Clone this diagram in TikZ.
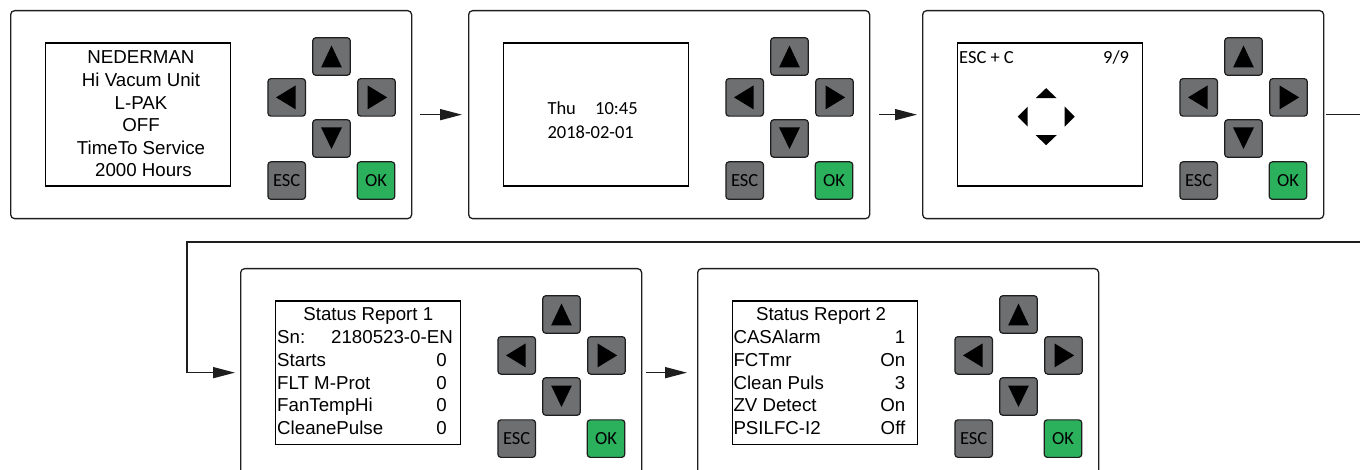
\documentclass[tikz,border=0pt]{standalone}
\usepackage{fontspec}
\setmainfont{Liberation Sans}
\newfontfamily\calfont{Carlito}
\usetikzlibrary{calc,arrows.meta}

\definecolor{keygray}{RGB}{109,111,113}
\definecolor{okgreen}{RGB}{43,176,92}
\definecolor{edge}{RGB}{30,30,30}

\tikzset{
  panel/.style={draw=edge, line width=1.3pt, rounded corners=4pt,
    minimum width=401pt, minimum height=208pt, inner sep=0pt, anchor=north west},
  screen/.style={draw=black, line width=1.3pt, minimum width=185pt,
    minimum height=143pt, inner sep=0pt, anchor=north west},
  key/.style={draw=edge, line width=1.2pt, rounded corners=3pt, fill=keygray,
    minimum size=37.5pt, inner sep=0pt},
  okkey/.style={key, fill=okgreen},
  keylabel/.style={font=\calfont\fontsize{18.5}{20}\selectfont},
  lcd/.style={inner sep=0pt, font=\fontsize{18.7}{22}\selectfont},
  lcdcal/.style={inner sep=0pt, font=\calfont\fontsize{18.5}{22}\selectfont},
  flow/.style={line width=1.6pt, draw=edge, -{Triangle[length=22pt,width=11pt]}},
}

% front panel: outline, display window and keypad of one controller view
\newcommand\ctrlpanel[3]{%
  \node[panel] (#1) at (#2,#3) {};
  \node[screen] (#1-scr) at ($(#1.north west)+(35,32.5)$) {};
  \node[key] (#1-up) at ($(#1.north west)+(321.5,46.5)$) {};
  \node[key] (#1-left) at ($(#1.north west)+(276.7,87.4)$) {};
  \node[key] (#1-right) at ($(#1.north west)+(366.5,87.4)$) {};
  \node[key] (#1-down) at ($(#1.north west)+(321.5,128.5)$) {};
  \node[key, keylabel] (#1-esc) at ($(#1.north west)+(276.7,170.6)$) {ESC};
  \node[okkey, keylabel] (#1-ok) at ($(#1.north west)+(366,170.6)$) {OK};
  \fill ($(#1-up)+(0,-11)$) -- ++(10.4,22) -- ++(-20.8,0) -- cycle;
  \fill ($(#1-down)+(0,10.5)$) -- ++(10.4,-21.5) -- ++(-20.8,0) -- cycle;
  \fill ($(#1-left)+(-10.7,0)$) -- ++(19.7,-12) -- ++(0,24) -- cycle;
  \fill ($(#1-right)+(10.7,0)$) -- ++(-19.7,-12) -- ++(0,24) -- cycle;
}

\begin{document}
\begin{tikzpicture}[x=1pt,y=-1pt]
\useasboundingbox (0,0) rectangle (1360,470);
\clip (0,0) rectangle (1360,470);

\ctrlpanel{p1}{10}{10}
\ctrlpanel{p2}{468}{10}
\ctrlpanel{p3}{922}{10}
\ctrlpanel{p4}{240}{268}
\ctrlpanel{p5}{697}{268}

% start-up screen
\foreach \t/\yy [count=\i] in {NEDERMAN/64, Hi Vacum Unit/86.6, L-PAK/109.2,
    OFF/131.8, TimeTo Service/154.4}
  \node[lcd, anchor=base] (p1-l\i) at (141,\yy) {\t};
\node[lcd, anchor=base] (p1-l6) at (143.5,177) {2000 Hours};

% date and time screen
\node[lcdcal, anchor=base west] (p2-day) at (547.3,115) {Thu};
\node[lcdcal, anchor=base west] (p2-time) at (595,115) {10:45};
\node[lcdcal, anchor=base west] (p2-date) at (547.3,138.3) {2018-02-01};

% navigation hint screen
\node[lcdcal, anchor=base west] (p3-hint) at (959,63.3) {ESC + C};
\node[lcdcal, anchor=base east] (p3-page) at (1129.3,63.3) {9/9};
\coordinate (p3-pad) at ($(p3-scr.center)+(-4,2)$);
\fill ($(p3-pad)+(0,-28.5)$) -- ++(10.5,10) -- ++(-21,0) -- cycle;
\fill ($(p3-pad)+(0,28.5)$) -- ++(10.5,-10) -- ++(-21,0) -- cycle;
\fill ($(p3-pad)+(-28.5,0)$) -- ++(10,-10) -- ++(0,20) -- cycle;
\fill ($(p3-pad)+(28.5,0)$) -- ++(-10,-10) -- ++(0,20) -- cycle;

% status report 1
\node[lcd, anchor=base] (p4-title) at (368.3,320.7) {Status Report 1};
\node[lcd, anchor=base west] (p4-k1) at (277,343.3) {Sn:};
\node[lcd, anchor=base east] (p4-v1) at (453,343.3) {2180523-0-EN};
\foreach \k/\v/\yy [count=\i from 2] in {Starts/0/366.5, FLT M-Prot/0/389,
    FanTempHi/0/411.7, CleanePulse/0/434.3} {
  \node[lcd, anchor=base west] (p4-k\i) at (277,\yy) {\k};
  \node[lcd, anchor=base east] (p4-v\i) at (447,\yy) {\v};
}

% status report 2
\node[lcd, anchor=base] (p5-title) at (821,320.7) {Status Report 2};
\foreach \k/\v/\yy [count=\i] in {CASAlarm/1/343.3, FCTmr/On/366.5,
    Clean Puls/3/389, ZV Detect/On/411.7, PSILFC-I2/Off/434.3} {
  \node[lcd, anchor=base west] (p5-k\i) at (733.3,\yy) {\k};
  \node[lcd, anchor=base east] (p5-v\i) at (905.5,\yy) {\v};
}

% screen sequence
\coordinate (turnA) at (1390,242);
\coordinate (turnB) at (187,242);
\draw[flow, shorten <=8pt, shorten >=6pt] (p1.east) -- (p2.west);
\draw[flow, shorten <=9pt, shorten >=5pt] (p2.east) -- (p3.west);
\draw[flow, shorten <=2pt, shorten >=5pt] (p3.east) -| (turnA) -- (turnB) |- (p4.west);
\draw[flow, shorten <=4pt, shorten >=10pt] (p4.east) -- (p5.west);
\end{tikzpicture}
\end{document}
